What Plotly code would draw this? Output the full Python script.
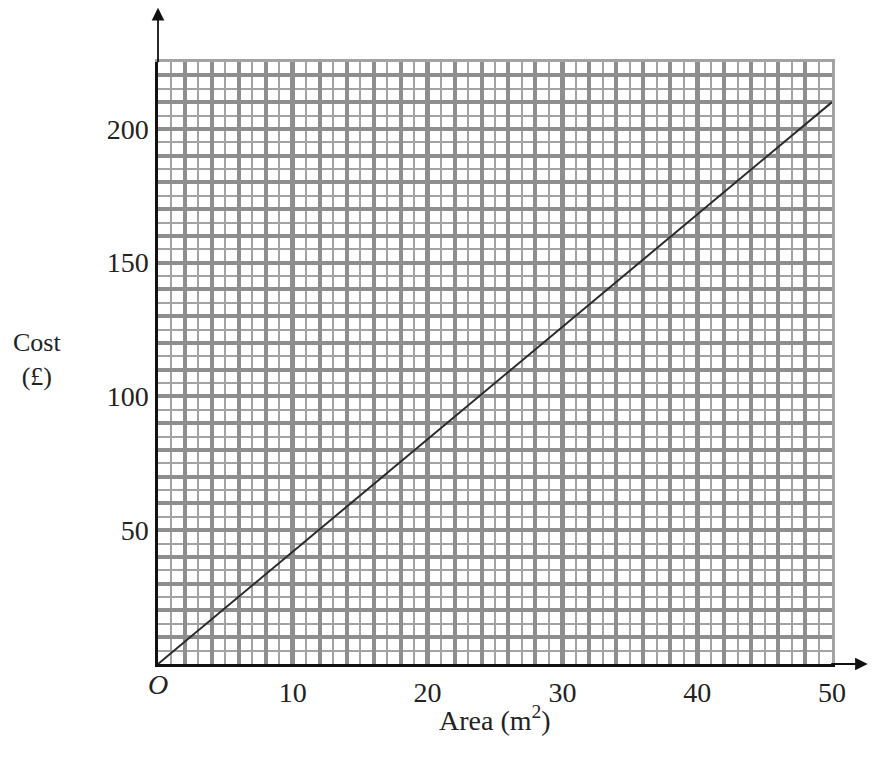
import plotly.graph_objects as go

# данные графика
area = [0, 50]
cost = [0, 210]
x_ticks = [10, 20, 30, 40, 50]
y_ticks = [50, 100, 150, 200]

GRID = '#a3a3a3'
GRID_DARK = '#8e8e8e'
SERIF = 'Liberation Serif'
TXT = '#222222'

fig = go.Figure()

fig.add_trace(go.Scatter(
    x=area, y=cost,
    mode='lines',
    line=dict(color='#2b2b2b', width=2),
    hoverinfo='skip'
))

# невидимый след для второй пары осей (средняя сетка + серая рамка)
fig.add_trace(go.Scatter(
    x=area, y=cost, xaxis='x2', yaxis='y2',
    mode='lines', line=dict(width=0), opacity=0, hoverinfo='skip'
))

fig.update_layout(
    width=875, height=759,
    margin=dict(l=158, r=43, t=62, b=95),
    paper_bgcolor='white',
    plot_bgcolor='white',
    showlegend=False,
    font=dict(family=SERIF, size=28, color=TXT),
    xaxis=dict(
        range=[0, 50], tickvals=x_ticks,
        showgrid=True, gridcolor=GRID_DARK, gridwidth=4.5,
        minor=dict(dtick=1, showgrid=True, gridcolor=GRID, gridwidth=2.3),
        zeroline=False, showline=True, linecolor='#111111', linewidth=2.5,
        ticks='', ticklabelstandoff=2,
        tickfont=dict(family=SERIF, size=28, color=TXT),
    ),
    yaxis=dict(
        range=[0, 225], tickvals=y_ticks,
        showgrid=True, gridcolor=GRID_DARK, gridwidth=3.5,
        minor=dict(dtick=5, showgrid=True, gridcolor=GRID, gridwidth=2.3),
        zeroline=False, showline=True, linecolor='#111111', linewidth=2.5,
        ticks='', ticklabelstandoff=1,
        tickfont=dict(family=SERIF, size=28, color=TXT),
    ),
    xaxis2=dict(
        overlaying='x', side='top', range=[0, 50], dtick=2,
        showgrid=True, gridcolor=GRID_DARK, gridwidth=3.5,
        showticklabels=False, ticks='', zeroline=False,
        showline=True, linecolor=GRID, linewidth=3,
    ),
    yaxis2=dict(
        overlaying='y', side='right', range=[0, 225], dtick=10,
        showgrid=True, gridcolor=GRID_DARK, gridwidth=3.5,
        showticklabels=False, ticks='', zeroline=False,
        showline=True, linecolor=GRID, linewidth=3,
    ),
)

# стрелки осей
fig.add_annotation(x=0, y=1.09, xref='paper', yref='paper', ax=0, ay=56,
                   showarrow=True, arrowhead=2, arrowsize=1.4, arrowwidth=1.8,
                   arrowcolor='#111111', text='')
fig.add_annotation(x=1.053, y=0, xref='paper', yref='paper', ax=-38, ay=0,
                   showarrow=True, arrowhead=2, arrowsize=1.4, arrowwidth=1.8,
                   arrowcolor='#111111', text='')

# подписи
fig.add_annotation(x=0.0, y=-0.005, xref='paper', yref='paper',
                   xanchor='center', yanchor='top', showarrow=False,
                   text='<i>O</i>', font=dict(family=SERIF, size=28, color=TXT))
fig.add_annotation(x=0.5, y=-0.058, xref='paper', yref='paper',
                   xanchor='center', yanchor='top', showarrow=False,
                   text='Area (m<sup>2</sup>)',
                   font=dict(family=SERIF, size=28, color=TXT))
fig.add_annotation(x=-0.18, y=0.505, xref='paper', yref='paper',
                   xanchor='center', yanchor='middle', showarrow=False,
                   text='Cost<br>(£)', align='center',
                   font=dict(family=SERIF, size=26, color=TXT))

fig.write_html("out.html", config={'displayModeBar': False},
               post_script="document.body.style.margin='0';document.body.style.overflow='hidden';")
